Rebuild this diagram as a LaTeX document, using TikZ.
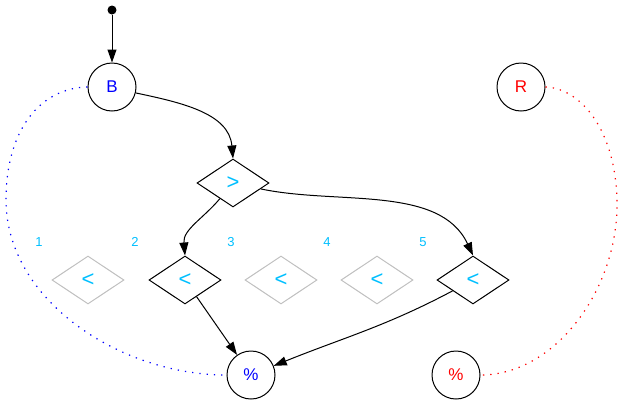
\documentclass[tikz,border=0pt]{standalone}
\usepackage{fontspec}
\setmainfont{Liberation Sans}
\usetikzlibrary{shapes.geometric,arrows.meta}
\definecolor{skyblue}{RGB}{0,191,255}
\definecolor{grayline}{RGB}{192,192,192}

\begin{document}
\begin{tikzpicture}[x=1pt,y=1pt,
        state/.style={circle,draw,line width=1pt,minimum size=48pt,inner sep=0pt,font=\fontsize{17}{20}\selectfont},
        cmp/.style={diamond,draw,line width=1pt,minimum width=72pt,minimum height=48pt,inner sep=0pt,text=skyblue,font=\fontsize{22}{24}\selectfont},
        idle/.style={cmp,draw=grayline},
        edge/.style={line width=1pt,-{Triangle[length=13pt,width=9pt]}},
        link/.style={line width=1.2pt,dash pattern=on 1.3pt off 6pt},
        num/.style={text=skyblue,font=\fontsize{13}{15}\selectfont}]
        \useasboundingbox (0,0) rectangle (624,-405);
        % states
        \node[circle,fill,inner sep=0pt,minimum size=9pt] (init) at (112,-10) {};
        \node[state,text=blue] (B) at (112,-87) {B};
        \node[state,text=red] (R) at (521,-87) {R};
        \node[cmp] (gt) at (233,-183) {>};
        % row of comparisons
        \foreach \i/\x in {1/39,2/135,3/231,4/327,5/423}
            \node[num] (n\i) at (\x,-242) {\i};
        \node[idle] (lt1) at (88,-280) {<};
        \node[cmp]  (lt2) at (185,-280) {<};
        \node[idle] (lt3) at (281,-280) {<};
        \node[idle] (lt4) at (377,-280) {<};
        \node[cmp]  (lt5) at (473,-280) {<};
        \node[state,text=blue] (pctB) at (251,-375) {\%};
        \node[state,text=red] (pctR) at (456,-375) {\%};
        % edges
        \draw[edge] (init) -- (B);
        \draw[edge] (B.-14) to[out=-12,in=95] (gt.north);
        \draw[edge] (gt) to[out=-130,in=95] (lt2.north);
        \draw[edge] (gt) to[out=-12,in=115,looseness=0.9] (lt5.north);
        \draw[edge] (lt2) -- (pctB);
        \draw[edge] (lt5) to[out=-152,in=22] (pctB);
        % dotted links
        \draw[link,blue] (B.west) .. controls (40,-88) and (6,-130) .. (6,-200)
            .. controls (6,-300) and (120,-375) .. (pctB.west);
        \draw[link,red] (R.east) .. controls (580,-88) and (617,-130) .. (617,-205)
            .. controls (617,-290) and (555,-375) .. (pctR.east);
\end{tikzpicture}
\end{document}
